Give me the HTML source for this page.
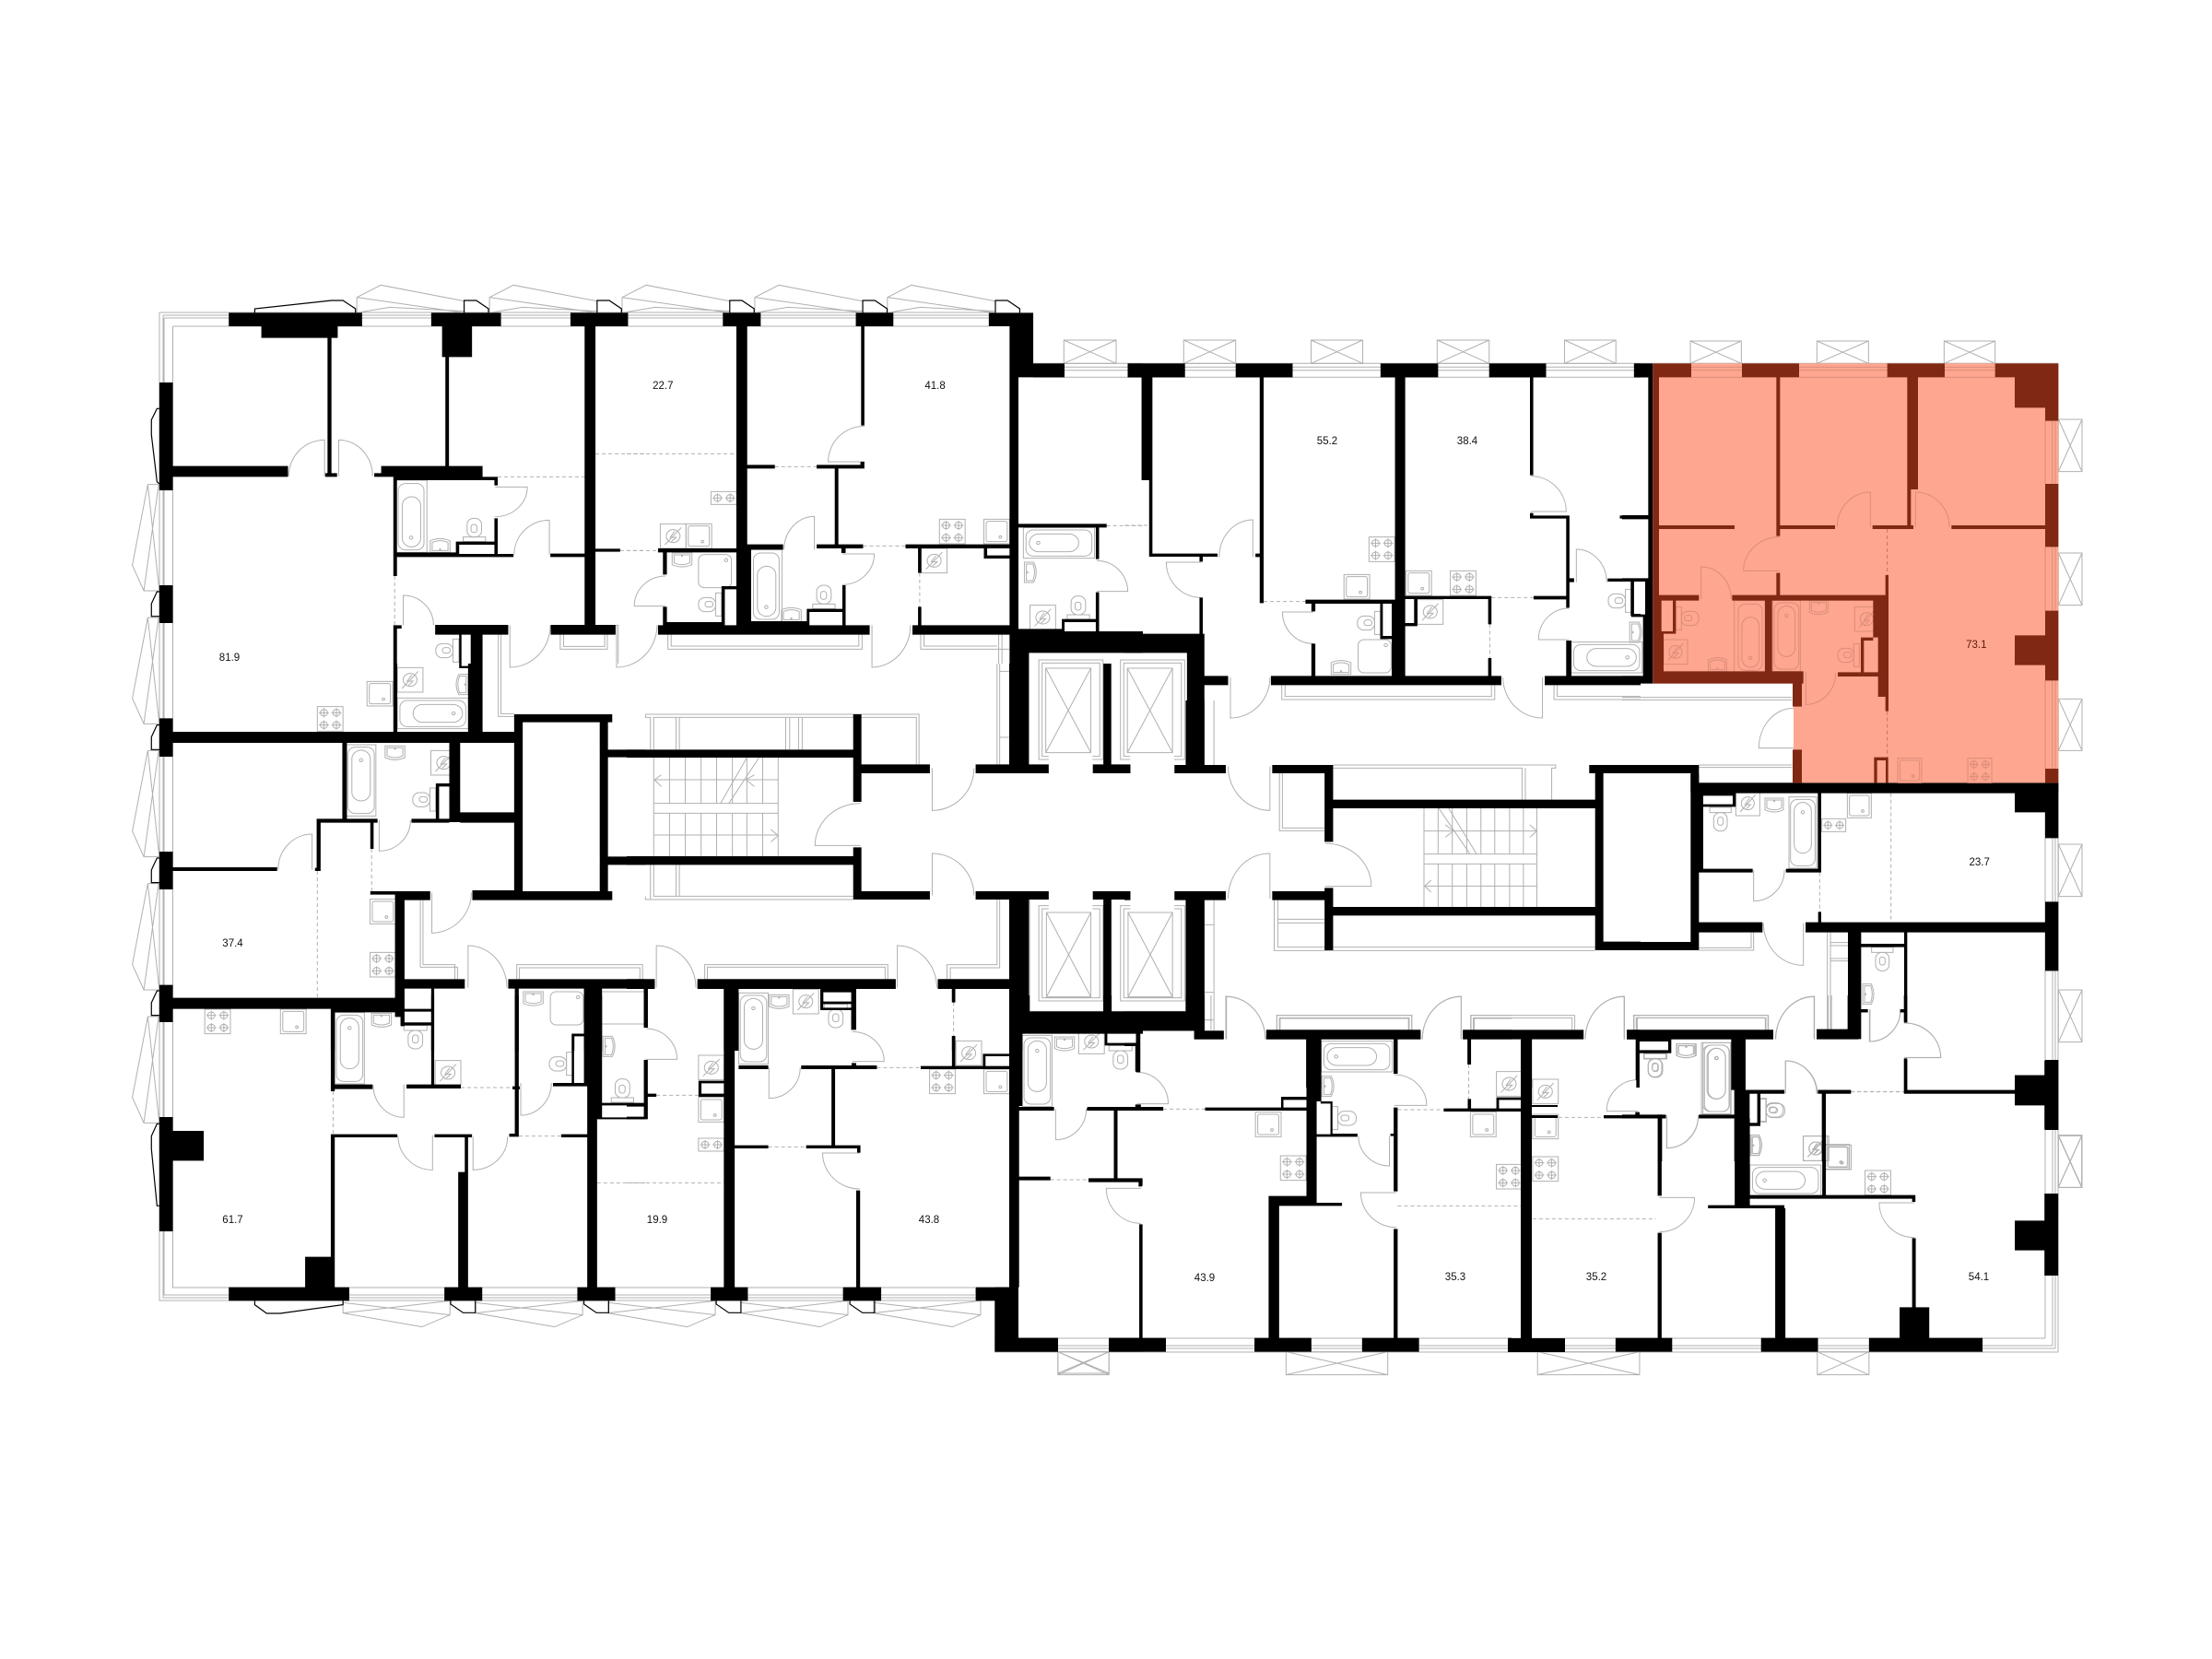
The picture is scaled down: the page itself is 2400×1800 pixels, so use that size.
<!DOCTYPE html>
<html lang="ru">
<head>
<meta charset="utf-8">
<title>Floor plan</title>
<style>
html,body{margin:0;padding:0;background:#fff}
svg{display:block}
svg *{vector-effect:non-scaling-stroke}
text{font-family:"Liberation Sans",sans-serif;font-size:11.5px;text-anchor:middle;fill:#111;stroke:none}
</style>
</head>
<body>
<svg width="2400" height="1800" viewBox="0 0 2400 1800" xmlns="http://www.w3.org/2000/svg">
<defs>
<g id="c"><circle r="11"/><path d="M-15 0H15M0-15V15"/></g>
<g id="s4"><rect width="78" height="80"/><use href="#c" x="20" y="20"/><use href="#c" x="58" y="20"/><use href="#c" x="20" y="60"/><use href="#c" x="58" y="60"/></g>
<g id="s2"><rect width="78" height="42"/><use href="#c" x="20" y="21"/><use href="#c" x="58" y="21"/></g>
<g id="wa"><rect width="78" height="80"/><circle cx="39" cy="40" r="21"/><path d="M14 68L64 12M44 24L30 44H48L34 58"/></g>
<g id="ks"><rect width="78" height="80"/><rect x="7" y="7" width="64" height="66" rx="6"/><circle cx="50" cy="58" r="4"/></g>
<g id="sh"><rect width="100" height="108" rx="18"/><circle cx="84" cy="18" r="5"/></g>
<g id="bvb"><rect x="-13" y="-11" width="100" height="235"/><rect width="78" height="216" rx="22"/><rect x="12" y="43" width="56" height="163" rx="28"/><circle cx="39" cy="176" r="5"/></g>
<g id="bvt"><rect x="-5" y="-8" width="90" height="232"/><rect width="80" height="216" rx="22"/><rect x="12" y="10" width="56" height="165" rx="28"/><circle cx="40" cy="42" r="5"/></g>
<g id="bhr"><rect x="-8" y="-8" width="216" height="100"/><rect width="200" height="85" rx="22"/><rect x="40" y="13" width="150" height="58" rx="29"/><circle cx="163" cy="42" r="5"/></g>
<g id="bhl"><rect x="-8" y="-8" width="216" height="100"/><rect width="200" height="85" rx="22"/><rect x="10" y="13" width="150" height="58" rx="29"/><circle cx="37" cy="42" r="5"/></g>
<g id="tb"><rect y="61" width="68" height="15"/><rect x="12" width="44" height="61" rx="20"/><rect x="24" y="20" width="18" height="26" rx="8"/></g>
<g id="tt"><rect width="70" height="17"/><rect x="13" y="17" width="44" height="60" rx="20"/><rect x="26" y="32" width="18" height="26" rx="8"/></g>
<g id="tr"><rect x="52" width="18" height="75"/><rect y="15" width="52" height="46" rx="20"/><rect x="20" y="28" width="24" height="18" rx="8"/></g>
<g id="tl"><rect width="18" height="75"/><rect x="18" y="15" width="56" height="46" rx="20"/><rect x="28" y="28" width="24" height="18" rx="8"/></g>
<g id="bsu"><path d="M0 0H60V38Q30 52 0 38zM6 6H54V32Q30 44 6 32z"/><circle cx="30" cy="9" r="2"/></g>
<g id="bsb"><path d="M0 48H60V10Q30-4 0 10zM6 42H54V16Q30 4 6 16z"/><circle cx="30" cy="38" r="2"/></g>
<g id="bsl"><path d="M0 0V66H28Q44 33 28 0zM6 6V60H26Q36 33 26 6z"/><circle cx="9" cy="33" r="2"/></g>
<g id="bsr"><path d="M40 0V66H12Q-4 33 12 0zM34 6V60H14Q4 33 14 6z"/><circle cx="31" cy="33" r="2"/></g>
<path id="ft" d="M0 0V-50L73-90L326-38M0-50L326 0M0 0L100-18L326-5"/>
<path id="fb" d="M0 0V40L240 85L325 46V0M0 6L325 46M0 40L325 0"/>
<path id="fl" d="M57 0L10 263L45 346H92M57 0H90L45 346M57 0L92 346"/>
<path id="tz" d="M0 0V-40H37L74-13V0"/>
<path id="lu" d="M1282 312H1252V-12H1447V312H1415M1282 302H1262V-2H1437V302H1415M1273 15H1410V290H1273zM1273 290L1410 15M1410 290L1273 15"/>
<path id="ll" d="M1282 788H1252V1098H1447V788H1415M1282 798H1262V1088H1437V798H1415M1275 810H1410V1085H1275zM1275 1085L1410 810M1410 1085L1275 810M1224 768V1132H1447"/>
</defs>
<rect width="2400" height="1800" fill="#fff"/>

<!-- global frame lines -->
<g fill="none" stroke="#b0b0b0" stroke-width="1">
<path d="M173 339V1411H1058M177 342V1408H1058M178 345V1405H1058M187.5 354V1397H1058M173 339H1073M177 342H1073M178 345H1073M187.5 354H1073"/>
<path d="M1121 394.3H2233M1121 398.3H2230M1121 401.7H2227M1121 409.3H2219M1079 1452H2219M1079 1460H2227M1079 1463H2230M1079 1467H2233M2219 409.3V1452M2227 398V1460M2230 398V1463M2233 394V1467"/>
</g>

<!-- GRAY: Z1 -->
<g transform="translate(140 300) scale(.35714 .33333)" fill="none" stroke="#b0b0b0">
<use href="#ft" x="692" y="118"/><use href="#ft" x="1095" y="118"/><use href="#ft" x="1498" y="118"/><use href="#ft" x="1901" y="118"/><use href="#ft" x="2304" y="118"/>
<use href="#fl" y="677"/><use href="#fl" y="1110"/><use href="#fl" y="1543"/><use href="#fl" y="1976"/><use href="#fl" y="2409"/>
<path d="M594 650V532A109 118 0 0 0 485 650M637 650V532A103 118 0 0 1 740 650M1112 685H1210A98 97 0 0 1 1112 782M1277 905V793A107 112 0 0 0 1170 905M833 1135V1038A92 97 0 0 1 925 1135M1157 1135V1272A123 137 0 0 0 1280 1135"/>
<path d="M1310 1166V1213H1453V1166M1320 1166V1204H1445V1166M1122 1166V1432H1170M1130 1166V1423H1170M1478 1135H1486V1260"/>
<use href="#bvb" x="818" y="674"/><use href="#bsb" x="915" y="850"/><use href="#tb" x="1015" y="787"/><use href="#tr" x="932" y="1180"/>
</g>
<!-- GRAY: Z2 -->
<g transform="translate(680 300) scale(.35714 .33333)" fill="none" stroke="#b0b0b0">
<path d="M570 889V781A92 108 0 0 0 478 889M722 603H612A110 116 0 0 1 722 487M655 903H752A97 100 0 0 1 655 1003M118 1073H23A95 98 0 0 1 118 975M-31 1135V1272A123 137 0 0 0 92 1135M745 1135V1272A118 137 0 0 0 862 1135M1428 1025H1522A94 100 0 0 0 1428 925"/>
<path d="M125 1166V1213H715V1166M135 1166V1203H705V1166M893 1166V1213H1163M903 1166V1203H1125M1130 1166V1260M1140 1166V1260"/>
<path d="M1328 207H1487V283H1328zM1328 207L1487 283M1487 207L1328 283"/>
<use href="#s2" x="256" y="700"/><use href="#wa" x="102" y="805"/><use href="#ks" x="180" y="805"/><use href="#bsu" x="138" y="900"/><use href="#sh" x="218" y="905"/><use href="#tr" x="218" y="1030"/>
<use href="#bvb" x="385" y="900"/><use href="#bsb" x="470" y="1075"/><use href="#tb" x="565" y="1005"/>
<use href="#s4" x="950" y="790"/><use href="#ks" x="1085" y="790"/><use href="#wa" x="895" y="885"/>
<use href="#bhl" x="1213" y="825"/><use href="#bsl" x="1208" y="930"/><use href="#tb" x="1338" y="1040"/><use href="#wa" x="1225" y="1070"/>
</g>
<!-- GRAY: Z3 -->
<g transform="translate(1220 340) scale(.35714 .33333)" fill="none" stroke="#b0b0b0">
<path d="M390 793V672A102 121 0 0 0 288 793M233 810H127A106 115 0 0 0 233 925M1235 645H1342A107 115 0 0 0 1235 530M574 972H480A94 103 0 0 0 574 1075M1373 875V768A92 107 0 0 1 1465 875M1350 1062H1258A92 102 0 0 1 1350 960M322 1185V1317A120 132 0 0 0 442 1185M1270 1185V1317A120 132 0 0 1 1150 1185"/>
<path d="M478 1210V1257H1125V1210M488 1210V1247H1115V1210M1305 1210V1257H1568M1315 1210V1247H1568"/>
<path d="M180 87H338V163H180zM180 87L338 163M338 87L180 163M567 87H724V163H567zM567 87L724 163M724 87L567 163M950 87H1108V163H950zM950 87L1108 163M1108 87L950 163M1337 87H1493V163H1337zM1337 87L1493 163M1493 87L1337 163"/>
<use href="#s4" x="743" y="728"/><use href="#ks" x="667" y="850"/><use href="#tr" x="708" y="970"/><use href="#sh" x="710" y="1062"/><use href="#bsb" x="628" y="1127"/>
<use href="#ks" x="855" y="838"/><use href="#s4" x="990" y="838"/><use href="#wa" x="890" y="932"/>
<use href="#tr" x="1470" y="898"/><use href="#bsl" x="1535" y="1005"/><use href="#bhr" x="1365" y="1078"/>
</g>
<!-- GRAY: Z4 outside highlight -->
<g transform="translate(1760 370) scale(.33333)" fill="none" stroke="#b0b0b0">
<path d="M558 1325H445A113 130 0 0 1 558 1195"/>
<path d="M0 1160H553M0 1168H553M250 1380H553M250 1388H553"/>
<path d="M222 0H388V73H222zM222 0L388 73M388 0L222 73M634 0H802V73H634zM634 0L802 73M802 0L634 73M1048 0H1214V73H1048zM1048 0L1214 73M1214 0L1048 73"/>
<path d="M1420 255H1497V425H1420zM1420 255L1497 425M1497 255L1420 425M1420 690H1497V860H1420zM1420 690L1497 860M1497 690L1420 860M1420 1165H1497V1333H1420zM1420 1165L1497 1333M1497 1165L1420 1333"/>
</g>
<!-- GRAY: Z5 -->
<g transform="translate(140 720) scale(.35714 .33333)" fill="none" stroke="#b0b0b0">
<path d="M760 510V610A95 100 0 0 0 855 510M556 670V555A103 115 0 0 0 453 670M920 745V877A122 132 0 0 0 1040 745M1030 1055V918A118 137 0 0 1 1148 1055"/>
<path d="M885 770V988H998V1027M893 770V980H990V1027M1178 1027V980H1560V1027M1186 1027V990H1552V1027"/>
<use href="#ks" x="723" y="58"/><use href="#s4" x="572" y="140"/><use href="#wa" x="815" y="13"/><use href="#bsr" x="990" y="35"/><use href="#bhr" x="823" y="120"/>
<use href="#bvt" x="665" y="272"/><use href="#bsu" x="778" y="268"/><use href="#wa" x="917" y="283"/><use href="#tr" x="862" y="405"/>
<use href="#ks" x="732" y="767"/><use href="#s4" x="732" y="940"/><use href="#s4" x="230" y="1125"/><use href="#ks" x="460" y="1125"/>
<use href="#bsu" x="1198" y="1068"/><use href="#sh" x="1280" y="1068"/>
<path d="M1437 1068H1568V1173H1437"/>
</g>
<!-- GRAY: Z6 -->
<g transform="translate(680 720) scale(.35714 .33333)" fill="none" stroke="#b0b0b0">
<path d="M928 340V478A127 138 0 0 0 1055 340M710 592H572A138 137 0 0 1 710 455M928 755V618A127 137 0 0 1 1055 755M90 1055V918A120 137 0 0 1 210 1055M822 1055V918A120 137 0 0 1 942 1055"/>
<path d="M237 1027V980H793V1027M245 1027V988H785V1027M973 1027V980H1125V768M983 1027V990H1133V768M1125 0V328M1133 0V328M1133 25H1162M1133 240H1162"/>
<path d="M57 165H888V328M57 165V175H72V280M80 175H880V328M82 175V280M150 175V280M160 175V280M483 175V280M495 175V280M522 175V280M533 175V280M72 655V757M82 655V757H688M150 655V757M160 655V757M72 757V768M57 758V768H688"/>
<path d="M82 306V627M130 306V455M178 306V455M226 306V455M273 306V455M321 306V455M365 306V455M413 306V455M460 306V627M130 487V627M178 487V627M226 487V627M273 487V627M321 487V627M365 487V627M413 487V627M82 378H460M82 455H460M82 487H460M82 558H460M365 306L285 455M402 306L310 455M105 362L84 378L105 400M388 362L362 378L388 400M438 540L460 560L438 580"/>
<use href="#lu"/><use href="#lu" x="248"/><use href="#ll"/><use href="#ll" x="248"/>
</g>
<!-- GRAY: Z7 -->
<g transform="translate(1220 760) scale(.35714 .33333)" fill="none" stroke="#b0b0b0">
<path d="M442 215V358A128 143 0 0 1 315 215M442 645V498A125 147 0 0 0 315 645M610 605H750A140 140 0 0 0 610 465M310 1103V964A118 139 0 0 1 428 1103M1023 1103V964A118 139 0 0 0 905 1103M1519 1103V964A118 139 0 0 0 1400 1103"/>
<path d="M463 1072V1025H873V1072M471 1072V1033H865V1072M1052 1072V1025H1368V1072M1060 1072V1033H1360V1072M1548 1072V1025H1568M1558 1072V1033H1568"/>
<path d="M471 237V424H608M480 237V415H608M455 650V814H1430M466 650V803H608M466 712H608M466 724H608M634 803H1430M634 210H1310V220H1298V323M634 220H1208V323M1218 220V323M243 0V210M272 0V210M243 650V1075M272 650V1075M243 730H270M243 950H270M243 1040H270"/>
<path d="M910 351V672M953 351V500M996 351V500M1040 351V500M1083 351V500M1125 351V500M1170 351V500M1212 351V500M1253 351V672M953 532V672M996 532V672M1040 532V672M1083 532V672M1125 532V672M1170 532V672M1212 532V672M910 425H1253M910 500H1253M910 532H1253M910 604H1253M955 351L1050 500M985 351L1070 500M1232 405L1253 425L1232 445M975 405L1000 425L975 445M932 585L912 604L932 624"/>
</g>
<!-- GRAY: Z8 -->
<g transform="translate(1760 840) scale(.33333)" fill="none" stroke="#b0b0b0">
<path d="M428 312V413A100 100 0 0 0 528 312M590 485V622A128 137 0 0 1 460 485M626 862V724A126 138 0 0 0 500 862M805 770V870A100 100 0 0 0 905 770M918 922H1037A119 112 0 0 0 918 810M532 1040V933A103 107 0 0 1 635 1040M145 1110V1217A103 107 0 0 0 248 1110"/>
<path d="M250 565H420V515M250 573H428V515M668 515V830M678 515V830M678 548H735M678 558H735M678 600H735M678 608H735M38 832V785H476V832M46 832V793H468V832"/>
<path d="M1420 228H1497V398H1420zM1420 228L1497 398M1497 228L1420 398M1420 702H1497V872H1420zM1420 702L1497 872M1497 702L1420 872M1420 1175H1497V1345H1420zM1420 1175L1497 1345M1497 1175L1420 1345"/>
<use href="#bvt" x="548" y="82"/><use href="#bsu" x="465" y="78"/><use href="#wa" x="370" y="55"/><use href="#tt" x="285" y="108"/><use href="#ks" x="733" y="62"/><use href="#s2" x="650" y="145"/>
<use href="#tt" x="812" y="563"/><use href="#bsl" x="783" y="683"/>
<use href="#bsu" x="178" y="878"/><use href="#tt" x="72" y="908"/><use href="#bvt" x="268" y="882"/>
<use href="#tl" x="450" y="1055"/><use href="#bsl" x="418" y="1175"/><use href="#wa" x="590" y="1178"/><use href="#ks" x="662" y="1205"/>
</g>
<!-- GRAY: Z9 -->
<g transform="translate(140 1080) scale(.35714 .33333)" fill="none" stroke="#b0b0b0">
<use href="#fb" x="650" y="994"/><use href="#fb" x="1053" y="994"/><use href="#fb" x="1456" y="994"/><use href="#fb" x="1859" y="994"/><use href="#fb" x="2262" y="994"/>
<path d="M835 290V397A93 105 0 0 1 742 292M922 455V568A105 113 0 0 1 817 455M1045 460V568A105 108 0 0 0 1150 460M1190 285V390A93 105 0 0 0 1283 285"/>
<use href="#bvt" x="630" y="64"/><use href="#bsu" x="737" y="58"/><use href="#tt" x="835" y="97"/><use href="#wa" x="930" y="212"/>
<use href="#tr" x="1277" y="185"/><use href="#bsl" x="1440" y="133"/><use href="#tb" x="1465" y="272"/>
</g>
<!-- GRAY: Z10 -->
<g transform="translate(680 1060) scale(.35714 .33333)" fill="none" stroke="#b0b0b0">
<path d="M58 268H153A95 100 0 0 0 58 168M685 275H782A97 97 0 0 0 685 178M432 295V395A95 100 0 0 0 527 295M708 573H595A113 117 0 0 0 708 690"/>
<path d="M1310 1220H1465V1290H1310zM1310 1220L1465 1290M1465 1220L1310 1290"/>
<use href="#bvt" x="345" y="60"/><use href="#bsu" x="433" y="58"/><use href="#wa" x="505" y="40"/><use href="#tt" x="600" y="88"/>
<use href="#wa" x="218" y="255"/><use href="#ks" x="218" y="392"/><use href="#s2" x="218" y="525"/>
<use href="#s4" x="920" y="300"/><use href="#ks" x="1085" y="300"/><use href="#wa" x="1000" y="208"/>
</g>
<!-- GRAY: Z11 -->
<g transform="translate(1080 1080) scale(.35714 .33333)" fill="none" stroke="#b0b0b0">
<path d="M700 143V3A120 140 0 0 1 820 143M1415 143V3A118 140 0 0 0 1297 143M430 353H525A95 103 0 0 0 430 250M183 370V470A93 100 0 0 0 276 370M442 628H337A105 114 0 0 0 442 742M1212 358H1310A98 100 0 0 0 1212 258M1197 458V555A94 97 0 0 1 1103 458M1218 642H1110A108 114 0 0 0 1218 755"/>
<path d="M855 112V65H1265V112M865 112V75H1255V112M1445 112V65H1568M1455 112V75H1568M635 0V112M655 0V112M635 80H655"/>
<path d="M190 1160H345V1235H190zM190 1160L345 1235M345 1160L190 1235M883 1160H1192V1235H883zM883 1160L1192 1235M1192 1160L883 1235"/>
<use href="#bvt" x="87" y="138"/><use href="#bsu" x="180" y="135"/><use href="#wa" x="253" y="110"/><use href="#tt" x="345" y="163"/>
<use href="#ks" x="790" y="380"/><use href="#s4" x="866" y="522"/>
<use href="#bhl" x="998" y="157"/><use href="#bsl" x="992" y="263"/><use href="#tl" x="1022" y="362"/>
<use href="#ks" x="1443" y="380"/><use href="#s4" x="1522" y="550"/><use href="#wa" x="1522" y="248"/>
</g>
<!-- GRAY: Z12 -->
<g transform="translate(1720 1080) scale(.35714 .33333)" fill="none" stroke="#b0b0b0">
<path d="M118 143V3A118 140 0 0 0 0 143M695 143V3A117 140 0 0 0 578 143M865 45V150A93 105 0 0 0 958 45M972 203H1080A108 113 0 0 0 972 90M608 320V213A95 107 0 0 1 703 320M160 377H65A95 102 0 0 1 160 275M248 395V497A95 102 0 0 0 343 395M225 658H332A107 112 0 0 1 225 770M1000 675H893A107 113 0 0 0 1000 788"/>
<path d="M147 112V65H555V112M155 112V73H547V112M738 0V112M748 0V112"/>
<path d="M705 1160H862V1235H705zM705 1160L862 1235M862 1160L705 1235M-145 1160H165V1235H-145zM-145 1160L165 1235M165 1160L-145 1235M1437 457H1508V625H1437zM1437 457L1508 625M1508 457L1437 625"/>
<use href="#tt" x="178" y="190"/><use href="#bsu" x="277" y="158"/><use href="#bvt" x="358" y="162"/><use href="#tl" x="532" y="337"/><use href="#bsl" x="500" y="455"/><use href="#wa" x="662" y="458"/><use href="#ks" x="730" y="487"/><use href="#s4" x="850" y="570"/><use href="#bhl" x="508" y="560"/>
<use href="#wa" x="-160" y="273"/><use href="#ks" x="-160" y="387"/><use href="#s4" x="-160" y="525"/>
</g>

<!-- DASHED -->
<g fill="none" stroke="#b0b0b0" stroke-dasharray="4 3">
<path transform="translate(140 300) scale(.35714 .33333)" d="M1120 652H1384M1417 577H1568M1492 892H1568M807 975V1135"/>
<path transform="translate(680 300) scale(.35714 .33333)" d="M0 577H333M0 892H95M450 619H577M718 877H847M890 965V1075M1458 811H1568"/>
<path transform="translate(1220 340) scale(.35714 .33333)" d="M0 690H75M423 938H550M1115 925H1243M1110 1012V1122"/>
<path transform="translate(140 720) scale(.35714 .33333)" d="M737 603V741M572 675V1088"/>
<path transform="translate(1760 840) scale(.33333)" d="M643 320V448M875 62V482M745 1033H918"/>
<path transform="translate(140 1080) scale(.35714 .33333)" d="M620 312V452M1008 300H1165M1184 458H1313M1422 610H1568"/>
<path transform="translate(680 1060) scale(.35714 .33333)" d="M90 385H218M430 553H545M760 295H893M993 82V192M0 670H295"/>
<path transform="translate(1080 1080) scale(.35714 .33333)" d="M510 370H637M167 600H283M1222 372H1362M1438 225V337M1222 685H1600"/>
<path transform="translate(1720 1080) scale(.35714 .33333)" d="M806 314H968M-160 397H56M-160 727H215"/>
</g>

<!-- THIN BLACK OUTLINES -->
<g transform="translate(140 300) scale(.35714 .33333)" fill="none" stroke="#000" stroke-width="1.2">
<path d="M382 118V105L615 78H650L688 105V118M92 430H85L68 467V515L85 668L92 675"/>
<use href="#tz" x="1018" y="118"/><use href="#tz" x="1422" y="118"/><use href="#tz" x="1825" y="118"/><use href="#tz" x="2229" y="118"/><use href="#tz" x="2632" y="118"/>
<path d="M92 1026H85L68 1065V1106H92M92 1460H85L68 1499V1540H92M92 1893H85L68 1932V1973H92M92 2325H85L68 2364V2405H92M92 2758H85L68 2798V2840L85 3025H92"/>
<path d="M382 3334V3347L418 3375H460L650 3347V3334M977 3334V3345L1015 3373H1052V3334M1382 3334V3345L1420 3373H1457V3334M1784 3334V3345L1822 3373H1859V3334M2190 3334V3345L2228 3373H2265V3334"/>
</g>

<!-- BLACK WALLS -->
<g fill="#000">
<path transform="translate(140 300) scale(.35714 .33333)" d="M303 118H708V162H303zM402 162H634V200H402zM603 200H615V640H603zM596 640H632V652H596zM918 118H1130V162H918zM951 162H1042V262H951zM961 262H972V618H961zM1341 118H1516V162H1341zM1384 162H1417V1135H1384zM92 345H133V696H92zM133 617H483V652H133zM745 640H770V652H745zM766 617H1074V652H766zM803 652H1120V663H803zM1110 663H1120V680H1110zM803 652H814V975H803zM803 898H1003V913H803zM1003 903H1168V913H1003zM993 863H1003V905H993zM993 863H1117V873H993zM1110 787H1120V905H1110zM1280 902H1384V913H1280zM1417 886H1492V896H1417zM92 1005H133V1128H92zM803 1135H828V1146H803zM803 1135H814V1260H803zM930 1134H1152V1166H930zM1003 1146H1010V1260H1003zM1038 1166H1074V1260H1038zM1281 1134H1478V1166H1281z"/>
<path transform="translate(680 300) scale(.35714 .33333)" d="M292 118H407V162H292zM333 162H366V1140H333zM696 118H810V162H696zM712 162H722V485H712zM1100 118H1235V162H1100zM1163 118H1235V328H1163zM1235 283H1330V328H1235zM1163 328H1190V1260H1163zM1522 283H1568V328H1522zM366 613H450V625H366zM577 613H722V625H577zM632 625H643V875H632zM710 603H722V613H710zM366 872H475V889H366zM577 872H718V885H577zM652 885H665V900H652zM847 872H1163V885H847zM1085 884H1095V918H1085zM1085 908H1163V918H1085zM885 884H895V965H885zM885 1075H895V1135H885zM95 885H333V898H95zM110 898H122V970H110zM110 1075H122V1135H110zM122 1125H298V1135H122zM288 1008H298V1135H288zM288 1008H333V1018H288zM298 1138H333V1140H298zM95 1135H738V1166H95zM366 889H378V1135H366zM378 1122H550V1135H378zM547 1082H665V1092H547zM547 1082H555V1135H547zM655 1005H665V1135H655zM868 1135H1163V1166H868zM1190 805H1458V817H1190zM1425 817H1435V920H1425zM1425 1028H1435V1165H1425zM1322 1115H1435V1125H1322zM1322 1115H1330V1150H1322zM1190 1147H1330V1155H1190zM1163 1155H1568V1225H1163zM1163 1225H1222V1260H1163z"/>
<path transform="translate(1220 340) scale(.35714 .33333)" d="M10 163H184V208H10zM338 163H511V208H338zM778 163H953V208H778zM1108 163H1281V208H1108zM1548 163H1568V208H1548zM52 208H85V543H52zM75 543H85V792H75zM75 782H283V792H75zM228 792H238V808H228zM411 208H423V943H411zM398 782H411V793H398zM822 208H853V935H822zM812 935H853V1180H812zM550 932H822V945H550zM853 920H1115V930H853zM568 945H580V970H568zM568 1075H580V1180H568zM777 945H785V1060H777zM777 1050H812V1060H777zM880 930H890V1018H880zM853 1008H890V1018H853zM1105 930H1115V1012H1105zM1105 1122H1115V1185H1105zM445 1180H1145V1210H445zM228 925H238V1045H228zM0 1043H243V1105H0zM190 1105H243V1260H190zM243 1180H315V1210H243zM1232 208H1242V527H1232zM1232 650H1242V667H1232zM1232 658H1352V668H1232zM1342 668H1352V958H1342zM1352 862H1366V875H1352zM1243 920H1342V931H1243zM1505 658H1568V668H1505zM1468 863H1568V873H1468zM1538 873H1548V985H1538zM1538 978H1568V985H1538zM1342 1065H1358V1180H1342zM1277 1180H1568V1210H1277z"/>
<path transform="translate(1760 370) scale(.33333)" d="M40 73H100V118H40zM85 118H100V1115H85zM0 567H85V580H0zM0 772H85V783H0zM30 772H38V898H30zM75 772H85V898H75zM30 890H85V898H30zM68 898H85V1090H68zM0 1090H100V1115H0zM0 1380H250V1407H0zM223 1380H250V1470H223zM250 1438H1420V1470H250z"/>
<path transform="translate(140 720) scale(.35714 .33333)" d="M803 0H815V225H803zM1030 0H1074V225H1030zM1003 0H1010V15H1003zM1003 8H1040V15H1003zM92 178H133V303H92zM133 222H1170V258H133zM1170 165H1196V770H1170zM1170 165H1468V191H1170zM1430 165H1455V770H1430zM1196 741H1468V770H1196zM1455 165H1468V175H1455zM648 258H662V516H648zM973 258H1006V516H973zM1006 484H1170V518H1006zM570 505H755V518H570zM570 505H582V675H570zM565 665H580V675H565zM733 518H743V603H733zM858 505H973V518H858zM932 390H942V505H932zM932 390H973V400H932zM133 663H450V675H133zM92 612H133V735H92zM733 741H808V752H733zM808 741H915V770H808zM808 741H837V1150H808zM837 1027H1020V1058H837zM1043 738H1196V770H1043zM1152 1027H1568V1058H1152zM1455 280H1568V305H1455zM1455 628H1568V655H1455zM92 1046H133V1167H92zM133 1088H837V1124H133zM613 1124H625V1260H613zM613 1124H830V1135H613zM825 1120H837V1180H825zM825 1124H925V1133H825zM825 1168H925V1178H825zM918 1058H927V1260H918zM1172 1058H1184V1260H1172zM1382 1058H1437V1260H1382zM1345 1205H1353V1260H1345zM1345 1205H1382V1213H1345z"/>
<path transform="translate(680 720) scale(.35714 .33333)" d="M0 280H688V306H0zM688 165H713V450H688zM713 328H921V357H713zM0 627H688V655H0zM688 598H713V768H688zM713 741H921V768H713zM1060 328H1282V357H1060zM1162 0H1222V328H1162zM1416 328H1530V357H1416zM1448 0H1472V328H1448zM1060 741H1282V768H1060zM1162 768H1222V1135H1162zM1416 741H1530V768H1416zM1448 768H1472V1135H1448zM946 1027H1162V1058H946zM215 1027H817V1058H215zM0 1027H85V1058H0zM295 1058H340V1260H295zM52 1058H64V1185H52zM682 1108H697V1190H682zM988 1058H998V1103H988zM988 1212H998V1260H988zM1162 1135H1568V1205H1162zM1162 1205H1202V1260H1162zM590 1058H697V1068H590zM590 1068H597V1108H590zM590 1100H697V1108H590z"/>
<path transform="translate(1220 760) scale(.35714 .33333)" d="M0 210H18V237H0zM152 210H308V237H152zM186 0H243V210H186zM0 621H18V650H0zM152 621H308V650H152zM186 650H243V1075H186zM0 1012H243V1075H0zM212 1075H302V1103H212zM35 1075H48V1210H35zM0 1115H35V1125H0zM449 210H634V237H449zM608 237H634V460H608zM449 621H608V650H449zM608 610H634V813H608zM634 323H1430V351H634zM634 672H1430V700H634zM1430 210H1455V813H1430zM1412 210H1568V237H1412zM1430 785H1568V813H1430zM431 1072H899V1103H431zM552 1103H598V1260H552zM818 1103H830V1215H818zM1029 1072H1395V1103H1029zM1042 1103H1052V1185H1042zM1205 1103H1238V1260H1205zM1527 1072H1568V1103H1527zM1555 1103H1565V1260H1555z"/>
<path transform="translate(1760 840) scale(.33333)" d="M223 0H250V62H223zM223 28H1420V62H223zM0 546H250V573H0zM223 62H250V573H223zM1278 62H1420V124H1278zM1377 124H1420V208H1377zM637 62H648V320H637zM250 308H425V320H250zM533 308H648V320H533zM250 62H264V320H250zM360 70H370V105H360zM264 62H370V70H264zM264 98H370V106H264zM250 482H457V515H250zM597 482H1420V515H597zM638 448H648V482H638zM1377 415H1420V640H1377zM735 515H778V830H735zM633 830H768V862H633zM768 765H800V775H768zM768 765H778V862H768zM778 552H925V563H778zM918 515H928V808H918zM905 765H918V775H905zM918 928H928V1040H918zM918 1028H1278V1040H918zM1278 980H1377V1078H1278zM1377 930H1420V1158H1377zM15 832H492V863H15zM355 863H400V1028H355zM400 1028H528V1040H400zM637 1028H745V1040H637zM650 1040H660V1260H650zM44 863H54V995H44zM54 898H160V908H54zM150 863H160V905H150zM0 1108H142V1120H0zM120 1120H130V1260H120zM250 1108H365V1120H250zM365 1028H415V1260H365zM440 1040H450V1145H440zM410 1135H450V1145H410z"/>
<path transform="translate(140 1080) scale(.35714 .33333)" d="M613 44H625V312H613zM620 290H740V305H620zM843 290H1008V303H843zM918 0H927V295H918zM825 0H832V97H825zM825 88H920V97H825zM1165 296H1187V306H1165zM1172 0H1184V458H1172zM1155 450H1184V460H1155zM1288 285H1392V296H1288zM1345 130H1352V290H1345zM1345 125H1382V132H1345zM1382 0H1437V296H1382zM1392 296H1437V403H1392zM1392 403H1422V950H1392zM1437 350H1568V358H1437zM1423 397H1568V403H1423zM625 452H815V462H625zM613 452H625V950H613zM928 452H1042V462H928zM1020 462H1030V575H1020zM1000 575H1030V950H1000zM1313 452H1392V462H1313zM92 396H133V768H92zM133 441H227V538H133zM535 851H625V950H535zM303 950H669V994H303zM958 950H1073V994H958zM1362 950H1477V994H1362z"/>
<path transform="translate(680 1060) scale(.35714 .33333)" d="M215 7H817V39H215zM295 39H328V1010H295zM682 39H697V172H682zM588 48H597V108H588zM588 39H697V50H588zM588 100H697V108H588zM945 7H1162V39H945zM988 39H998V82H988zM988 192H998V290H988zM1082 250H1162V258H1082zM1082 250H1090V292H1082zM340 288H430V300H340zM530 288H760V300H530zM683 280H697V288H683zM622 300H633V548H622zM893 290H1162V300H893zM328 548H430V558H328zM545 548H710V558H545zM700 558H710V572H700zM697 695H709V1010H697zM255 1010H368V1054H255zM657 1010H773V1054H657zM1060 1010H1162V1054H1060zM1162 7H1190V1175H1162zM1118 1054H1190V1220H1118zM1190 1175H1310V1220H1190zM1465 1175H1568V1220H1465zM0 7H85V39H0zM52 39H64V165H52zM52 270H64V463H52zM64 380H90V390H64zM218 338H295V346H218zM218 380H295V390H218zM218 338H227V385H218zM0 415H64V422H0zM0 455H64V463H0zM1190 425H1298V435H1190zM1398 425H1568V435H1398zM1480 435H1490V658H1480zM1190 650H1287V660H1190zM1403 658H1565V668H1403zM1555 668H1565V682H1555z"/>
<path transform="translate(1080 1080) scale(.35714 .33333)" d="M42 0H104V52H42zM328 0H353V52H328zM578 0H635V52H578zM42 52H635V115H42zM604 115H693V143H604zM42 115H82V360H42zM42 360H72V950H42zM0 950H42V1160H0zM42 1115H190V1160H42zM345 1115H518V1160H345zM787 1115H960V1160H787zM1114 1115H1287V1160H1114zM1558 1115H1568V1160H1558zM332 115H340V155H332zM332 155H440V163H332zM430 115H440V155H430zM425 155H440V248H425zM72 363H178V375H72zM280 363H510V375H280zM637 365H945V375H637zM425 355H442V365H425zM360 375H371V595H360zM283 595H447V607H283zM437 607H447V620H437zM437 745H447V1115H437zM70 592H167V602H70zM823 112H1292V143H823zM945 143H990V345H945zM945 345H976V680H945zM1210 143H1222V255H1210zM868 330H945V340H868zM868 330H875V375H868zM988 345H1024V352H988zM1018 345H1024V460H1018zM1024 450H1100V460H1024zM976 452H1020V460H976zM830 653H976V685H830zM830 653H862V1115H830zM976 675H1053V685H976zM1210 365H1222V638H1210zM1200 450H1210V458H1200zM1210 760H1222V1115H1210zM1420 112H1568V143H1420zM1435 143H1445V225H1435zM1435 337H1445V375H1435zM1362 368H1600V378H1362zM1522 332H1600V340H1522zM1522 332H1530V375H1522z"/>
<path d="M1650 1128H1662V1467H1650zM1636 1452H1698V1467H1636zM1662 1199H1690V1201H1662zM1662 1210H1690V1213H1662z"/>
<path transform="translate(1720 1080) scale(.35714 .33333)" d="M126 112H571V143H126zM455 143H487V400H455zM155 143H163V273H155zM155 180H260V188H155zM253 143H260V188H253zM155 143H260V150H155zM454 400H500V692H454zM487 308H605V320H487zM708 308H806V320H708zM720 320H731V660H720zM523 320H532V425H523zM495 415H532V425H495zM500 650H1003V662H500zM373 683H605V693H373zM577 693H608V1115H577zM993 662H1003V672H993zM993 790H1004V1015H993zM955 1015H1045V1115H955zM862 1115H1207V1160H862zM534 1115H707V1160H534zM92 1115H264V1160H92zM220 388H232V652H220zM56 390H245V400H56zM152 380H165V390H152zM220 773H232V1115H220zM345 390H455V400H345zM703 112H830V143H703zM797 0H830V112H797zM830 45H858V55H830zM968 0H978V88H968zM960 45H968V55H960zM968 205H978V320H968zM968 310H1305V320H968zM1305 260H1395V357H1305zM1395 212H1437V437H1395zM1305 733H1395V830H1305zM1395 645H1437V912H1395z"/>
</g>

<!-- HIGHLIGHTED APARTMENT -->
<g transform="translate(1760 370) scale(.33333)">
<path fill="#ffa690" d="M100 73H1420V1438H558V1115H100z"/>
<g fill="none" stroke="#d98d79">
<path d="M225 85H390M225 95H390M576 85H863M576 95H863M1050 85H1214M1050 95H1214M225 118H390M576 118H863M1050 118H1214M1400 260V465M1410 260V465M1400 670V878M1410 670V878M1400 1105V1392M1410 1105V1392M1377 260V465M1377 670V878M1377 1105V1392"/>
<path d="M808 605V492A108 113 0 0 0 700 605M955 605V492A110 113 0 0 1 1065 605M512 748H395A117 110 0 0 1 512 638M257 840V735A98 105 0 0 1 355 840M598 1078V1183A97 103 0 0 0 695 1080"/>
<use href="#tl" x="175" y="865"/><use href="#wa" x="135" y="972"/><use href="#bsb" x="280" y="1028"/><use href="#bvb" x="378" y="856"/><use href="#bvt" x="495" y="852"/><use href="#bsu" x="610" y="845"/><use href="#wa" x="757" y="865"/><use href="#tr" x="702" y="985"/><use href="#ks" x="897" y="1358"/><use href="#s4" x="1125" y="1358"/>
</g>
<path fill="none" stroke="#c9735c" stroke-dasharray="4 3" d="M863 612V762M863 1205V1355"/>
<path fill="#802814" d="M100 73H225V118H100zM390 73H576V118H390zM863 73H1050V118H863zM1214 73H1420V118H1214zM1278 73H1420V217H1278zM1377 217H1420V260H1377zM928 118H963V483H928zM928 483H940V612H928zM502 118H514V635H502zM100 73H120V960H100zM100 953H135V1115H100zM120 600H366V612H120zM514 600H693V612H514zM815 600H948V612H815zM1072 600H1377V612H1072zM1377 465H1420V670H1377zM1377 878H1420V1105H1377zM1278 958H1377V1055H1278zM1377 1392H1420V1438H1377zM502 755H514V830H502zM120 827H250V845H120zM358 827H860V845H358zM165 845H175V953H165zM120 945H175V953H120zM120 827H128V953H120zM128 827H165V836H128zM465 845H488V1075H465zM100 1075H590V1115H100zM555 1115H585V1190H555zM555 1330H585V1438H555zM817 827H860V965H817zM833 965H860V1158H833zM857 762H867V1205H857zM777 965H817V975H777zM777 975H787V1090H777zM702 1078H833V1092H702zM820 1355H866V1365H820zM820 1365H830V1438H820zM858 1365H866V1438H858z"/>
</g>

<!-- LABELS -->
<text x="249" y="717">81.9</text>
<text x="252.5" y="1027">37.4</text>
<text x="252.5" y="1327">61.7</text>
<text x="719.3" y="422">22.7</text>
<text x="1014.6" y="422">41.8</text>
<text x="1440" y="482">55.2</text>
<text x="1592" y="482">38.4</text>
<text x="2144.3" y="703" style="fill:#5a1a0c">73.1</text>
<text x="2147.7" y="939">23.7</text>
<text x="713" y="1327">19.9</text>
<text x="1008" y="1327">43.8</text>
<text x="1307" y="1390">43.9</text>
<text x="1579" y="1389">35.3</text>
<text x="1732" y="1389">35.2</text>
<text x="2147" y="1389">54.1</text>
</svg>
</body>
</html>
